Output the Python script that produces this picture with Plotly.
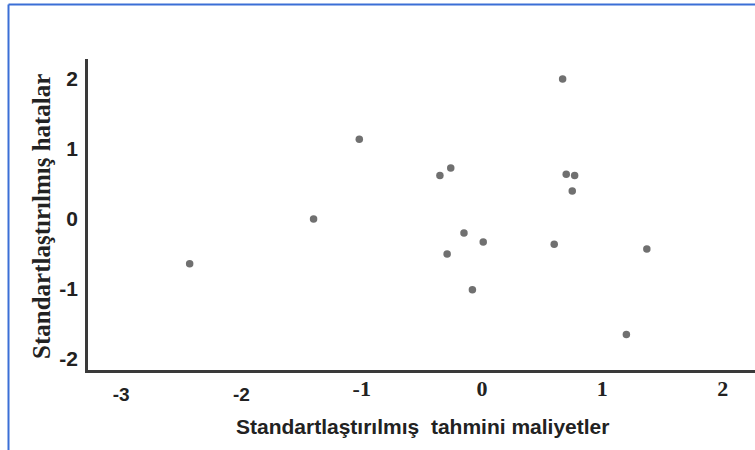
import plotly.graph_objects as go

# Data
predicted_std = [-2.43, -1.40, -1.02, -0.35, -0.26, -0.15, -0.29, 0.01, -0.08,
                 0.67, 0.70, 0.77, 0.75, 0.60, 1.37, 1.20]
residual_std = [-0.64, 0.00, 1.14, 0.62, 0.73, -0.20, -0.50, -0.33, -1.01,
                2.00, 0.64, 0.62, 0.40, -0.36, -0.43, -1.65]

x_tick_vals_sans = [-3, -2]
x_tick_vals_serif = [-1, 0, 1, 2]
y_tick_vals = [-2, -1, 0, 1, 2]

SERIF = "Liberation Serif, Times New Roman, serif"
SANS = "Liberation Sans, Arial, sans-serif"

X_RANGE = [-3.275, 2.269]
Y_RANGE = [-2.157, 2.286]

fig = go.Figure()
fig.add_trace(go.Scatter(
    x=predicted_std, y=residual_std, mode="markers",
    marker=dict(size=7.5, color="#707070"),
    showlegend=False, hoverinfo="x+y",
))
# invisible helper trace so the second (serif-labelled) x axis is drawn
fig.add_trace(go.Scatter(
    x=[x_tick_vals_serif[0]], y=[y_tick_vals[0]], xaxis="x2", mode="markers",
    marker=dict(size=1, opacity=0), showlegend=False, hoverinfo="skip",
))

W, H = 755, 450
L, R, T, B = 88, 0, 59, 80
pw, ph = W - L - R, H - T - B

fig.update_layout(
    width=W, height=H,
    margin=dict(l=L, r=R, t=T, b=B, autoexpand=False),
    paper_bgcolor="white", plot_bgcolor="white",
    font=dict(family=SANS, color="#222222", size=18),
    xaxis=dict(
        range=X_RANGE, tickvals=x_tick_vals_sans,
        ticktext=[f"<b>{v}</b>" for v in x_tick_vals_sans],
        showgrid=False, zeroline=False, showline=True, linecolor="#3a3a3a",
        linewidth=2.5, ticks="", ticklabelstandoff=5,
        tickfont=dict(size=19, family=SANS, color="#222222"),
    ),
    xaxis2=dict(
        range=X_RANGE, overlaying="x", side="bottom", anchor="y",
        tickvals=x_tick_vals_serif,
        ticktext=[f"<b>{v}</b>" for v in x_tick_vals_serif],
        showgrid=False, zeroline=False, showline=False, ticks="",
        ticklabelstandoff=3,
        tickfont=dict(size=22, family=SERIF, color="#222222"),
    ),
    yaxis=dict(
        range=Y_RANGE, tickvals=y_tick_vals,
        ticktext=[f"<b>{v}</b>" for v in y_tick_vals],
        showgrid=False, zeroline=False, showline=True, linecolor="#3a3a3a",
        linewidth=2.5, ticks="", ticklabelstandoff=3,
        tickfont=dict(size=21, family=SANS, color="#222222"),
    ),
    annotations=[
        dict(text="<b>Standartlaştırılmış  tahmini maliyetler</b>",
             xref="paper", yref="paper",
             x=(422 - L) / pw, y=1 - (426 - T) / ph,
             showarrow=False, xanchor="center", yanchor="middle",
             font=dict(family=SANS, size=21, color="#222222")),
        dict(text="<b>Standartlaştırılmış hatalar</b>",
             xref="paper", yref="paper",
             x=(41 - L) / pw, y=1 - (217 - T) / ph, textangle=-90,
             showarrow=False, xanchor="center", yanchor="middle",
             font=dict(family=SERIF, size=25, color="#222222")),
    ],
    shapes=[
        dict(type="line", xref="paper", yref="paper",
             x0=(8.5 - L) / pw, x1=(8.5 - L) / pw,
             y0=1 + (T - 4.5) / ph, y1=-B / ph - 0.01,
             line=dict(color="#3b6fd6", width=2)),
        dict(type="line", xref="paper", yref="paper",
             x0=(8.5 - L) / pw, x1=1.01,
             y0=1 + (T - 4.5) / ph, y1=1 + (T - 4.5) / ph,
             line=dict(color="#3b6fd6", width=2)),
    ],
)

fig.write_html("out.html", config={"displayModeBar": False},
               post_script="document.body.style.margin='0';document.body.style.overflow='hidden';")
